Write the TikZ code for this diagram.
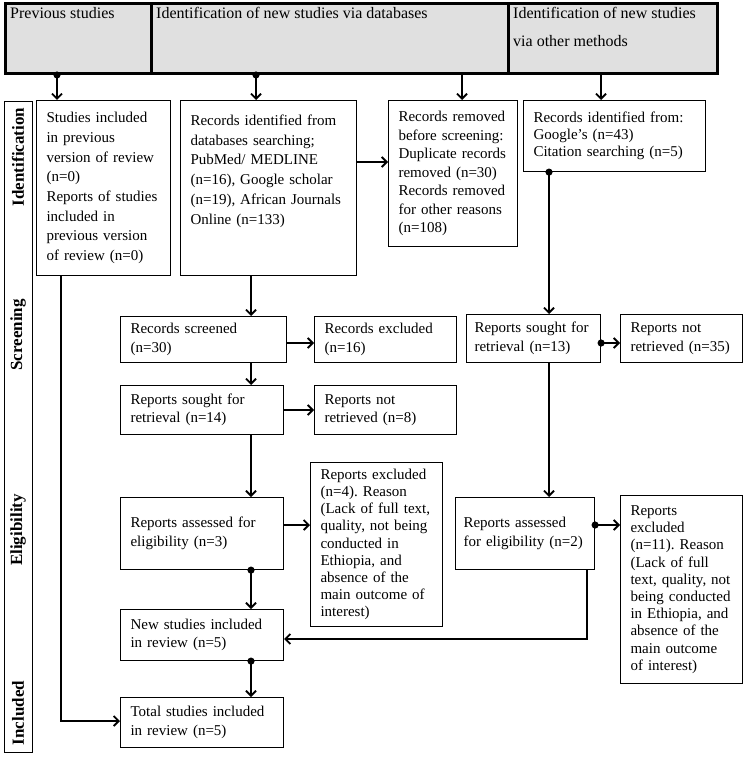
\documentclass[tikz,border=0pt]{standalone}
\usepackage{fontspec}
\setmainfont{Liberation Serif}
\usetikzlibrary{arrows.meta}

\tikzset{
  box/.style={draw, line width=1.1pt, anchor=north west, align=left,
    inner xsep=10pt, inner ysep=0pt, font=\fontsize{15}{18.5}\selectfont},
  wide/.style={font=\fontsize{15}{19.7}\selectfont},
  tight/.style={font=\fontsize{15}{17.2}\selectfont},
  hcell/.style={draw, line width=3pt, fill=black!12, anchor=north west,
    minimum height=70pt, inner sep=0pt},
  htext/.style={anchor=north west, inner xsep=6pt, inner ysep=5pt, align=left,
    font=\fontsize{16}{28}\selectfont},
  stage/.style={rotate=90, font=\fontsize{17}{17}\selectfont\bfseries},
  arr/.style={line width=1.8pt, -{Straight Barb[length=5pt,width=10pt]}},
  darr/.style={arr, {Circle[length=7pt]}-{Straight Barb[length=5pt,width=10pt]},
    shorten <=-3.5pt},
}

\begin{document}
\frenchspacing
\begin{tikzpicture}[x=1pt,y=-1pt]
\useasboundingbox (0,0) rectangle (744,762);

% header
\node[hcell, minimum width=146pt] (hprev) at (4,2) {};
\node[hcell, minimum width=357pt] (hdb) at (150,2) {};
\node[hcell, minimum width=209pt] (hoth) at (507,2) {};
\node[htext] (hprevt) at (hprev.north west) {Previous studies};
\node[htext] (hdbt) at (hdb.north west) {Identification of new studies via databases};
\node[htext] (hotht) at (hoth.north west) {Identification of new studies\\via other methods};

% stages
\node[draw, line width=1.3pt, anchor=north west, minimum width=28pt,
  minimum height=651pt, inner sep=0pt] (strip) at (4,101) {};
\node[stage] (sid) at (18,157) {Identification};
\node[stage] (sscr) at (18,335) {Screening};
\node[stage] (selig) at (18,530) {Eligibility};
\node[stage] (sinc) at (18,713) {Included};

% identification
\node[box, wide, text width=114pt, minimum height=175pt] (prev) at (36,100)
  {Studies included\\in previous\\version of review\\(n=0)\\Reports of studies\\included in\\previous version\\of review (n=0)};
\node[box, wide, text width=156pt, text height=25pt, text depth=150pt] (db) at (180,100)
  {Records identified from\\databases searching;\\PubMed/ MEDLINE\\(n=16), Google scholar\\(n=19), African Journals\\Online (n=133)};
\node[box, text width=109pt, minimum height=146pt] (rem) at (388,100)
  {Records removed\\before screening:\\Duplicate records\\removed (n=30)\\Records removed\\for other reasons\\(n=108)};
\node[box, tight, text width=162pt, minimum height=71pt] (oth) at (523,100)
  {Records identified from:\\Google’s (n=43)\\Citation searching (n=5)};

% screening
\node[box, text width=146pt, minimum height=46pt] (sc) at (120,316) {Records screened\\(n=30)};
\node[box, text width=122pt, minimum height=46pt] (exc) at (314,316) {Records excluded\\(n=16)};
\node[box, text width=143pt, minimum height=49pt] (s14) at (120,385) {Reports sought for\\retrieval (n=14)};
\node[box, text width=122pt, minimum height=49pt] (nr8) at (314,385) {Reports not\\retrieved (n=8)};
\node[box, inner xsep=8pt, text width=118pt, minimum height=48pt] (s13) at (466,314) {Reports sought for\\retrieval (n=13)};
\node[box, text width=102pt, minimum height=48pt] (nr35) at (620,314) {Reports not\\retrieved (n=35)};

% eligibility
\node[box, text width=143pt, minimum height=72pt] (a3) at (120,497) {Reports assessed for\\eligibility (n=3)};
\node[box, tight, text width=112pt, minimum height=164pt] (e4) at (310,462)
  {Reports excluded\\(n=4). Reason\\(Lack of full text,\\quality, not being\\conducted in\\Ethiopia, and\\absence of the\\main outcome of\\interest)};
\node[box, inner xsep=8pt, text width=123pt, minimum height=72pt] (a2) at (455,497) {Reports assessed\\for eligibility (n=2)};
\node[box, tight, text width=102pt, minimum height=188pt] (e11) at (620,495)
  {Reports\\excluded\\(n=11). Reason\\(Lack of full\\text, quality, not\\being conducted\\in Ethiopia, and\\absence of the\\main outcome\\of interest)};

% included
\node[box, text width=143pt, minimum height=51pt] (n5) at (120,609) {New studies included\\in review (n=5)};
\node[box, text width=143pt, minimum height=50pt] (t5) at (120,697) {Total studies included\\in review (n=5)};

% lanes
\coordinate (xprev) at (57,0);
\coordinate (xdbin) at (256,0);
\coordinate (xrem) at (462,0);
\coordinate (xoth) at (601,0);
\coordinate (xdb) at (251,0);
\coordinate (xoth2) at (549,0);
\coordinate (xprev2) at (61,0);
\coordinate (xjoin) at (587,0);
\coordinate (yrem) at (0,162);
\coordinate (yscr) at (0,343);
\coordinate (yret) at (0,410);
\coordinate (yelig) at (0,525);
\coordinate (yjoin) at (0,639);
\coordinate (yincl) at (0,721);

% connectors
\draw[darr] (hprev.south -| xprev) -- (prev.north -| xprev);
\draw[darr] (hdb.south -| xdbin) -- (db.north -| xdbin);
\draw[arr] (hdb.south -| xrem) -- (rem.north -| xrem);
\draw[arr] (hoth.south -| xoth) -- (oth.north -| xoth);
\draw[arr] (db.east |- yrem) -- (rem.west |- yrem);
\draw[arr] (db.south -| xdb) -- (sc.north -| xdb);
\draw[arr] (sc.east |- yscr) -- (exc.west |- yscr);
\draw[arr] (sc.south -| xdb) -- (s14.north -| xdb);
\draw[arr] (s14.east |- yret) -- (nr8.west |- yret);
\draw[arr] (s14.south -| xdb) -- (a3.north -| xdb);
\draw[arr] (a3.east |- yelig) -- (e4.west |- yelig);
\draw[darr] (a3.south -| xdb) -- (n5.north -| xdb);
\draw[darr] (n5.south -| xdb) -- (t5.north -| xdb);
\draw[darr] (oth.south -| xoth2) -- (s13.north -| xoth2);
\draw[darr] (s13.east |- yscr) -- (nr35.west |- yscr);
\draw[arr] (s13.south -| xoth2) -- (a2.north -| xoth2);
\draw[darr] (a2.east |- yelig) -- (e11.west |- yelig);
\draw[arr] (a2.south -| xjoin) |- (n5.east |- yjoin);
\draw[arr] (prev.south -| xprev2) |- (t5.west |- yincl);
\end{tikzpicture}
\end{document}
